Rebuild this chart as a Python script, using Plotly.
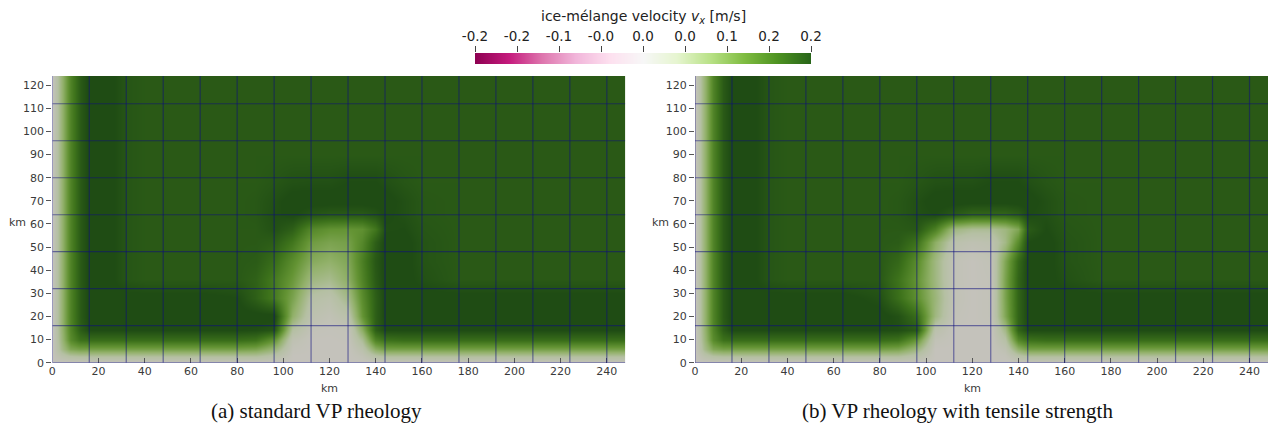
import plotly.graph_objects as go

# ---------------- data ----------------
# mesh node coordinates [km] at which the velocity is sampled
X_NODES_KM = [0, 4, 8, 12, 16, 24, 32, 40, 48, 64, 80, 88, 96, 104, 112, 120,
              128, 134, 140, 144, 152, 160, 176, 192, 208, 224, 240, 248]
Y_NODES_KM = [0, 3, 6, 10, 14, 20, 28, 36, 44, 52, 58, 64, 70, 78, 90, 104, 116, 124]

# ice-melange velocity v_x [mm/s], rows = Y_NODES_KM (bottom -> top)
VX_A_MMS = [
    [0, 0, 0, 0, 0, 0, 0, 0, 0, 0, 0, 0, 0, 0, 0, 0, 0, 0, 0, 0, 0, 0, 0, 0, 0, 0, 0, 0],
    [0, 25, 40, 45, 45, 45, 45, 45, 45, 45, 45, 45, 30, 0, 0, 0, 0, 10, 35, 45, 45, 45, 45, 45, 45, 45, 45, 45],
    [0, 55, 95, 105, 105, 105, 105, 105, 105, 105, 105, 100, 70, 5, 0, 0, 0, 25, 85, 105, 105, 105, 105, 105, 105, 105, 105, 105],
    [0, 65, 130, 160, 165, 165, 165, 165, 165, 165, 165, 160, 120, 15, 0, 0, 2, 50, 140, 160, 165, 165, 165, 165, 165, 165, 165, 165],
    [0, 70, 138, 182, 200, 200, 200, 200, 200, 200, 200, 198, 190, 40, 5, 2, 5, 85, 180, 200, 200, 200, 200, 200, 200, 200, 200, 200],
    [0, 70, 140, 185, 205, 205, 205, 205, 205, 205, 205, 205, 205, 80, 20, 10, 30, 120, 180, 205, 205, 205, 205, 205, 205, 205, 205, 205],
    [0, 70, 140, 185, 205, 205, 205, 205, 205, 205, 200, 180, 150, 100, 35, 25, 60, 130, 180, 205, 205, 205, 205, 205, 205, 205, 205, 205],
    [0, 70, 140, 185, 205, 205, 190, 186, 186, 186, 186, 178, 150, 115, 65, 55, 85, 140, 185, 205, 205, 195, 186, 186, 186, 186, 186, 186],
    [0, 70, 140, 185, 205, 205, 190, 186, 186, 186, 186, 184, 165, 130, 90, 80, 95, 145, 188, 205, 205, 192, 186, 186, 186, 186, 186, 186],
    [0, 70, 140, 185, 205, 205, 190, 186, 186, 186, 186, 186, 182, 155, 110, 100, 105, 135, 180, 205, 205, 192, 186, 186, 186, 186, 186, 186],
    [0, 70, 140, 185, 205, 205, 190, 186, 186, 186, 186, 186, 195, 180, 135, 122, 120, 125, 155, 198, 200, 190, 186, 186, 186, 186, 186, 186],
    [0, 70, 140, 185, 205, 205, 190, 186, 186, 186, 186, 188, 198, 202, 190, 185, 185, 185, 192, 202, 196, 188, 186, 186, 186, 186, 186, 186],
    [0, 70, 140, 185, 205, 205, 190, 186, 186, 186, 186, 188, 196, 205, 205, 205, 205, 205, 205, 205, 196, 188, 186, 186, 186, 186, 186, 186],
    [0, 70, 140, 185, 205, 205, 190, 186, 186, 186, 186, 186, 190, 195, 196, 196, 200, 200, 200, 196, 190, 186, 186, 186, 186, 186, 186, 186],
    [0, 70, 140, 185, 205, 205, 190, 186, 186, 186, 186, 186, 186, 186, 186, 186, 186, 186, 186, 186, 186, 186, 186, 186, 186, 186, 186, 186],
    [0, 70, 140, 185, 205, 205, 190, 186, 186, 186, 186, 186, 186, 186, 186, 186, 186, 186, 186, 186, 186, 186, 186, 186, 186, 186, 186, 186],
    [0, 70, 140, 185, 205, 205, 190, 186, 186, 186, 186, 186, 186, 186, 186, 186, 186, 186, 186, 186, 186, 186, 186, 186, 186, 186, 186, 186],
    [0, 70, 140, 185, 205, 205, 190, 186, 186, 186, 186, 186, 186, 186, 186, 186, 186, 186, 186, 186, 186, 186, 186, 186, 186, 186, 186, 186],
]

VX_B_MMS = [
    [0, 0, 0, 0, 0, 0, 0, 0, 0, 0, 0, 0, 0, 0, 0, 0, 0, 0, 0, 0, 0, 0, 0, 0, 0, 0, 0, 0],
    [0, 25, 40, 45, 45, 45, 45, 45, 45, 45, 45, 45, 28, 0, 0, 0, 0, 5, 30, 45, 45, 45, 45, 45, 45, 45, 45, 45],
    [0, 55, 95, 105, 105, 105, 105, 105, 105, 105, 105, 100, 65, 0, 0, 0, 0, 15, 80, 105, 105, 105, 105, 105, 105, 105, 105, 105],
    [0, 65, 130, 160, 165, 165, 165, 165, 165, 165, 165, 160, 115, 8, 0, 0, 0, 35, 135, 160, 165, 165, 165, 165, 165, 165, 165, 165],
    [0, 70, 138, 182, 200, 200, 200, 200, 200, 200, 200, 198, 185, 25, 0, 0, 0, 60, 175, 200, 200, 200, 200, 200, 200, 200, 200, 200],
    [0, 70, 140, 185, 205, 205, 205, 205, 205, 205, 205, 195, 165, 65, 5, 0, 5, 95, 175, 205, 205, 205, 205, 205, 205, 205, 205, 205],
    [0, 70, 140, 185, 205, 205, 205, 205, 205, 205, 195, 165, 125, 70, 10, 0, 5, 100, 175, 205, 205, 205, 205, 205, 205, 205, 205, 205],
    [0, 70, 140, 185, 205, 205, 190, 186, 186, 186, 186, 160, 120, 65, 8, 0, 5, 100, 175, 205, 205, 195, 186, 186, 186, 186, 186, 186],
    [0, 70, 140, 185, 205, 205, 190, 186, 186, 186, 186, 172, 130, 65, 8, 0, 8, 95, 170, 205, 205, 192, 186, 186, 186, 186, 186, 186],
    [0, 70, 140, 185, 205, 205, 190, 186, 186, 186, 186, 184, 160, 85, 25, 15, 20, 60, 130, 200, 205, 192, 186, 186, 186, 186, 186, 186],
    [0, 70, 140, 185, 205, 205, 190, 186, 186, 186, 186, 186, 188, 145, 65, 50, 50, 65, 95, 185, 200, 190, 186, 186, 186, 186, 186, 186],
    [0, 70, 140, 185, 205, 205, 190, 186, 186, 186, 186, 188, 196, 200, 185, 172, 172, 172, 182, 200, 196, 188, 186, 186, 186, 186, 186, 186],
    [0, 70, 140, 185, 205, 205, 190, 186, 186, 186, 186, 188, 196, 205, 205, 205, 205, 205, 205, 205, 196, 188, 186, 186, 186, 186, 186, 186],
    [0, 70, 140, 185, 205, 205, 190, 186, 186, 186, 186, 186, 190, 195, 196, 196, 200, 200, 200, 196, 190, 186, 186, 186, 186, 186, 186, 186],
    [0, 70, 140, 185, 205, 205, 190, 186, 186, 186, 186, 186, 186, 186, 186, 186, 186, 186, 186, 186, 186, 186, 186, 186, 186, 186, 186, 186],
    [0, 70, 140, 185, 205, 205, 190, 186, 186, 186, 186, 186, 186, 186, 186, 186, 186, 186, 186, 186, 186, 186, 186, 186, 186, 186, 186, 186],
    [0, 70, 140, 185, 205, 205, 190, 186, 186, 186, 186, 186, 186, 186, 186, 186, 186, 186, 186, 186, 186, 186, 186, 186, 186, 186, 186, 186],
    [0, 70, 140, 185, 205, 205, 190, 186, 186, 186, 186, 186, 186, 186, 186, 186, 186, 186, 186, 186, 186, 186, 186, 186, 186, 186, 186, 186],
]

DOMAIN_X_KM = [0, 248]
DOMAIN_Y_KM = [0, 124]
MESH_LINES_X_KM = [0, 16, 32, 48, 64, 80, 96, 112, 128, 144, 160, 176, 192, 208, 224, 240]
MESH_LINES_Y_KM = [0, 16, 32, 48, 64, 80, 96, 112]

X_TICKS = [0, 20, 40, 60, 80, 100, 120, 140, 160, 180, 200, 220, 240]
Y_TICKS = [0, 10, 20, 30, 40, 50, 60, 70, 80, 90, 100, 110, 120]

CBAR_RANGE = [-0.2, 0.2]
CBAR_TICKS = [-0.2, -0.15, -0.1, -0.05, 0.0, 0.05, 0.1, 0.15, 0.2]
CBAR_LABELS = ["-0.2", "-0.2", "-0.1", "-0.0", "0.0", "0.0", "0.1", "0.2", "0.2"]

CAPTIONS = ["(a) standard VP rheology", "(b) VP rheology with tensile strength"]

# ---------------- styling ----------------
W, H = 1275, 428
# rendered (shaded) colours of the positive half of the PiYG map
FIELD_SCALE = [
    [0.0, "rgb(196,194,187)"],
    [0.2, "rgb(181,192,163)"],
    [0.4, "rgb(146,177,106)"],
    [0.6, "rgb(100,148,52)"],
    [0.8, "rgb(61,114,27)"],
    [1.0, "rgb(31,76,20)"],
]
TICK_FONT = dict(family="DejaVu Sans", size=11, color="#3a3a3a")
MESH_COLOR = "rgba(14,14,125,0.52)"

panels_px = [(52.3, 625.3), (695.0, 1268.0)]
plot_top_px, plot_bot_px = 76.0, 362.7

fig = go.Figure()

for i, vx in enumerate([VX_A_MMS, VX_B_MMS]):
    sfx = "" if i == 0 else "2"
    fig.add_trace(go.Heatmap(
        x=X_NODES_KM, y=Y_NODES_KM,
        z=[[v / 1000.0 for v in row] for row in vx],
        zmin=0.0, zmax=0.2, zsmooth="best",
        colorscale=FIELD_SCALE, showscale=False,
        xaxis="x" + sfx, yaxis="y" + sfx, hoverinfo="skip",
    ))

# colour legend bar drawn as a heatmap on its own axis
fig.add_trace(go.Heatmap(
    x=CBAR_RANGE, y=[0, 1], z=[CBAR_RANGE, CBAR_RANGE],
    zmin=CBAR_RANGE[0], zmax=CBAR_RANGE[1], zsmooth="best",
    colorscale="PiYG", showscale=False, xaxis="x3", yaxis="y3", hoverinfo="skip",
))

shapes = []
for i in range(2):
    sfx = "" if i == 0 else "2"
    for xm in MESH_LINES_X_KM:
        shapes.append(dict(type="line", xref="x" + sfx, yref="y" + sfx,
                           x0=xm, x1=xm, y0=DOMAIN_Y_KM[0], y1=DOMAIN_Y_KM[1],
                           line=dict(color=MESH_COLOR, width=1.2), layer="above"))
    for ym in MESH_LINES_Y_KM:
        shapes.append(dict(type="line", xref="x" + sfx, yref="y" + sfx,
                           x0=DOMAIN_X_KM[0], x1=DOMAIN_X_KM[1], y0=ym, y1=ym,
                           line=dict(color=MESH_COLOR, width=1.2), layer="above"))

def xdom(p):
    return [p[0] / W, p[1] / W]

ydom = [(H - plot_bot_px) / H, (H - plot_top_px) / H]

common_x = dict(range=DOMAIN_X_KM, tickvals=X_TICKS, ticks="inside", ticklen=5,
                tickcolor="#555", tickwidth=1, showgrid=False, zeroline=False,
                showline=False, tickfont=TICK_FONT, layer="above traces",
                automargin=False, fixedrange=True)
common_y = dict(range=DOMAIN_Y_KM, tickvals=Y_TICKS, ticks="outside", ticklen=5,
                tickcolor="#555", tickwidth=1, showgrid=False, zeroline=False,
                showline=False, tickfont=TICK_FONT, layer="above traces",
                automargin=False, fixedrange=True)

cb_top_px, cb_bot_px = 53.0, 64.0
cb_left_px, cb_right_px = 475.0, 811.0

fig.update_layout(
    width=W, height=H, template="none",
    paper_bgcolor="white", plot_bgcolor="white",
    margin=dict(l=0, r=0, t=0, b=0),
    showlegend=False,
    xaxis=dict(domain=xdom(panels_px[0]), anchor="y", **common_x),
    yaxis=dict(domain=ydom, anchor="x", **common_y),
    xaxis2=dict(domain=xdom(panels_px[1]), anchor="y2", **common_x),
    yaxis2=dict(domain=ydom, anchor="x2", **common_y),
    xaxis3=dict(domain=[cb_left_px / W, cb_right_px / W], anchor="y3", side="top",
                range=CBAR_RANGE, tickvals=CBAR_TICKS, ticktext=CBAR_LABELS,
                ticks="outside", ticklen=6, tickcolor="#444", tickwidth=1,
                tickfont=dict(family="DejaVu Sans", size=13.5, color="#222"),
                showgrid=False, zeroline=False, showline=False,
                automargin=False, fixedrange=True),
    yaxis3=dict(domain=[(H - cb_bot_px) / H, (H - cb_top_px) / H], anchor="x3",
                range=[0, 1], visible=False, fixedrange=True),
    shapes=shapes,
)

annotations = [
    dict(text="ice-mélange velocity <i>v<sub>x</sub></i> [m/s]", xref="paper", yref="paper",
         x=(cb_left_px + cb_right_px) / 2 / W, y=(H - 17) / H, showarrow=False,
         xanchor="center", yanchor="middle",
         font=dict(family="DejaVu Sans", size=14, color="#222")),
]
for i, p in enumerate(panels_px):
    sfx = "" if i == 0 else "2"
    annotations.append(dict(text="km", xref="paper", yref="paper",
                            x=(p[0] - 35) / W, y=(H - 222) / H, showarrow=False,
                            xanchor="center", yanchor="middle", font=TICK_FONT))
    annotations.append(dict(text="km", xref="x" + sfx, yref="paper",
                            x=120, y=(H - 388) / H, showarrow=False,
                            xanchor="center", yanchor="middle", font=TICK_FONT))
caption_centers_px = [316, 957]
for cap, cx in zip(CAPTIONS, caption_centers_px):
    annotations.append(dict(text=cap, xref="paper", yref="paper",
                            x=cx / W, y=(H - 411) / H, showarrow=False,
                            xanchor="center", yanchor="middle",
                            font=dict(family="Liberation Serif", size=21, color="#111")))
fig.update_layout(annotations=annotations)

fig.write_html("out.html", config={"displayModeBar": False},
               post_script="document.body.style.margin='0px';")
